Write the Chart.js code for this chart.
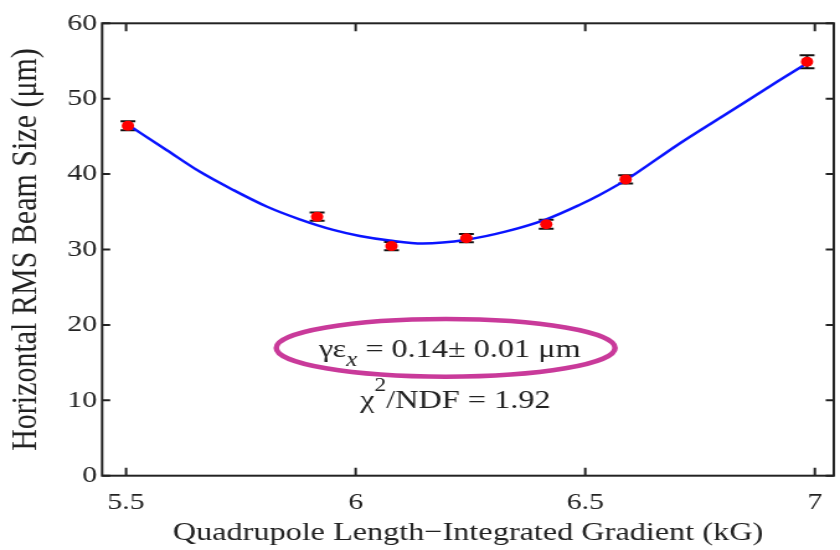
<!DOCTYPE html>
<html>
<head>
<meta charset="utf-8">
<script src="https://cdn.jsdelivr.net/npm/chart.js@4"></script>
<style>
  html, body { margin: 0; padding: 0; background: #fff; }
</style>
</head>
<body>
<!-- the original picture is stretched sideways, so the canvas is too -->
<canvas id="beam" width="677" height="550" style="display:block;width:840px;height:550px"></canvas>
<script>
// measured points (kG, um) with their error bars
var gradK = [5.504, 5.916, 6.078, 6.241, 6.415, 6.588, 6.983];
var beamSize = [46.4, 34.35, 30.45, 31.5, 33.35, 39.3, 54.9];
var beamErr = [0.6, 0.55, 0.55, 0.55, 0.6, 0.55, 0.85];

// fitted curve
var fitK = [5.505, 5.588, 5.661, 5.733, 5.806, 5.878, 5.951, 6.009, 6.074, 6.146,
            6.241, 6.328, 6.415, 6.487, 6.530, 6.588, 6.704, 6.813, 6.922, 6.983];
var fitSize = [46.5, 43.2, 40.3, 37.9, 35.7, 34.0, 32.6, 31.8, 31.2, 30.8,
               31.3, 32.4, 34.0, 35.9, 37.2, 39.2, 44.0, 48.2, 52.4, 54.7];

var xTicks = [5.5, 6, 6.5, 7];
var yTicks = [0, 10, 20, 30, 40, 50, 60];

var serif = "'Liberation Serif', 'Times New Roman', serif";
var ink = '#222';

// error bars go under the red markers
const errorBars = {
    id: 'errorBars',
    beforeDatasetsDraw(chart) {
        const ctx = chart.ctx, xs = chart.scales.x, ys = chart.scales.y;
        ctx.save();
        ctx.strokeStyle = '#111';
        ctx.lineWidth = 2;
        for (let i = 0; i < gradK.length; i++) {
            const px = xs.getPixelForValue(gradK[i]);
            const top = ys.getPixelForValue(beamSize[i] + beamErr[i]);
            const bot = ys.getPixelForValue(beamSize[i] - beamErr[i]);
            ctx.beginPath();
            ctx.moveTo(px, top); ctx.lineTo(px, bot);
            ctx.moveTo(px - 6, top); ctx.lineTo(px + 6, top);
            ctx.moveTo(px - 6, bot); ctx.lineTo(px + 6, bot);
            ctx.stroke();
        }
        ctx.restore();
    }
};

// closed box with inward ticks on all four sides
const frame = {
    id: 'frame',
    afterDatasetsDraw(chart) {
        const ctx = chart.ctx, a = chart.chartArea;
        const xs = chart.scales.x, ys = chart.scales.y;
        ctx.save();
        ctx.strokeStyle = ink;
        ctx.lineWidth = 2;
        ctx.strokeRect(a.left, a.top, a.right - a.left, a.bottom - a.top);
        ctx.beginPath();
        xTicks.forEach(v => {
            const p = xs.getPixelForValue(v);
            ctx.moveTo(p, a.bottom); ctx.lineTo(p, a.bottom - 8);
            ctx.moveTo(p, a.top); ctx.lineTo(p, a.top + 8);
        });
        yTicks.forEach(v => {
            const p = ys.getPixelForValue(v);
            ctx.moveTo(a.left, p); ctx.lineTo(a.left + 6.5, p);
            ctx.moveTo(a.right, p); ctx.lineTo(a.right - 6.5, p);
        });
        ctx.stroke();
        ctx.restore();
    }
};

function drawParts(ctx, parts, cx, baseY) {
    let total = 0;
    parts.forEach(p => {
        ctx.font = (p.italic ? 'italic ' : '') + p.size + 'px ' + serif;
        p.w = ctx.measureText(p.t).width;
        total += p.w;
    });
    let x = cx - total / 2;
    parts.forEach(p => {
        ctx.font = (p.italic ? 'italic ' : '') + p.size + 'px ' + serif;
        ctx.fillText(p.t, x, baseY + (p.dy || 0));
        x += p.w;
    });
}

// fit result text with the hand drawn ring
const note = {
    id: 'note',
    afterDraw(chart) {
        const ctx = chart.ctx, xs = chart.scales.x, ys = chart.scales.y;
        ctx.save();
        ctx.fillStyle = ink;
        ctx.textBaseline = 'alphabetic';
        drawParts(ctx, [
            {t: 'γε', size: 26},
            {t: 'x', size: 20, italic: true, dy: 9},
            {t: ' = 0.14± 0.01 μm', size: 26}
        ], xs.getPixelForValue(6.205), ys.getPixelForValue(15.78));
        drawParts(ctx, [
            {t: 'χ', size: 26},
            {t: '2', size: 19, dy: -17},
            {t: '/NDF = 1.92', size: 26}
        ], xs.getPixelForValue(6.217), ys.getPixelForValue(8.94));
        ctx.strokeStyle = '#C93A9A';
        ctx.lineWidth = 4.5;
        ctx.beginPath();
        ctx.ellipse(xs.getPixelForValue(6.196), ys.getPixelForValue(16.95), 136.5, 28.8, 0, 0, Math.PI * 2);
        ctx.stroke();
        ctx.restore();
    }
};

var points = gradK.map((k, i) => ({x: k, y: beamSize[i]}));
var curve = fitK.map((k, i) => ({x: k, y: fitSize[i]}));

const ctx = document.getElementById('beam');
new Chart(ctx, {
    type: 'scatter',
    data: {
        datasets: [{
                label: 'data',
                data: points,
                pointRadius: 5,
                pointBackgroundColor: '#ff0000',
                pointBorderWidth: 0
            }, {
                type: 'line',
                label: 'fit',
                data: curve,
                borderColor: '#0a14ff',
                borderWidth: 2.5,
                pointRadius: 0,
                cubicInterpolationMode: 'monotone',
                fill: false
            }]
    },
    options: {
        responsive: false,
        animation: false,
        devicePixelRatio: 1,
        layout: { padding: { top: 23.3, right: 4, left: 0, bottom: 0 } },
        plugins: { legend: { display: false }, tooltip: { enabled: false } },
        scales: {
            x: {
                type: 'linear',
                min: 5.4478,
                max: 7.0413,
                grid: { display: false, drawTicks: false },
                border: { display: false },
                afterBuildTicks: s => { s.ticks = xTicks.map(v => ({value: v})); },
                afterFit: s => { s.height = 74.3; },
                ticks: {
                    padding: 13,
                    color: ink,
                    font: { family: serif, size: 24 },
                    maxRotation: 0,
                    callback: v => String(v)
                },
                title: {
                    display: true,
                    text: 'Quadrupole Length−Integrated Gradient (kG)',
                    color: ink,
                    font: { family: serif, size: 26 },
                    padding: { top: 0, bottom: 1 }
                }
            },
            y: {
                min: 0,
                max: 60,
                grid: { display: false, drawTicks: false },
                border: { display: false },
                afterBuildTicks: s => { s.ticks = yTicks.map(v => ({value: v})); },
                afterFit: s => { s.width = 82.3; },
                ticks: {
                    padding: 4,
                    color: ink,
                    font: { family: serif, size: 24 },
                    callback: v => String(v)
                },
                title: {
                    display: true,
                    text: 'Horizontal RMS Beam Size (μm)',
                    color: ink,
                    font: { family: serif, size: 30 },
                    padding: { top: 3, bottom: 0 }
                }
            }
        }
    },
    plugins: [errorBars, frame, note]
});
</script>
</body>
</html>
